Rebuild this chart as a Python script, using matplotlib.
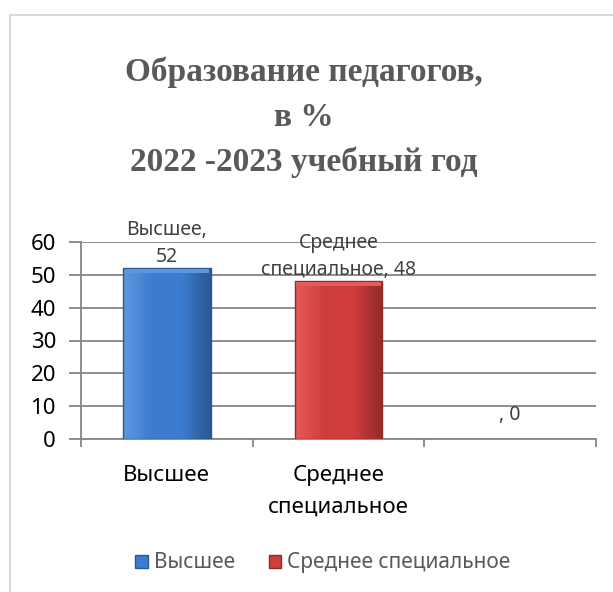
import matplotlib.pyplot as plt
import numpy as np
from matplotlib.patches import Rectangle, Patch
from matplotlib.colors import LinearSegmentedColormap

categories = ['Высшее', 'Среднее\nспециальное', '']
values = [52, 48, 0]
data_labels = ['Высшее,\n52', 'Среднее\nспециальное, 48', ', 0']
legend_names = ['Высшее', 'Среднее специальное']
colors = ['#3c7ccf', '#cf3d3c', '#888888']
dark_colors = ['#2a5893', '#922a2a', '#666666']
light_colors = ['#5d97df', '#e35b5a', '#aaaaaa']

plt.rcParams['font.family'] = ['Noto Sans', 'DejaVu Sans']

fig = plt.figure(figsize=(6.13, 5.92), dpi=100)
fig.patch.set_facecolor('white')

# light gray frame of the chart area
fig.patches.append(Rectangle((10 / 613, -0.1), 1.2, (592 - 15) / 592 + 0.1,
                             transform=fig.transFigure, fill=False,
                             edgecolor='#d9d9d9', linewidth=1.5))

fig.text(0.495, 0.802, 'Образование педагогов,\nв %\n2022 -2023 учебный год',
         ha='center', va='center', fontsize=24, fontweight='bold',
         color='#595959', family='Liberation Serif', linespacing=1.55)

ax = fig.add_axes([81 / 613, (592 - 439) / 592, (596 - 81) / 613, (439 - 242) / 592])
x = np.arange(len(categories))
w = 0.51

ax.set_xlim(-0.5, 2.5)
ax.set_ylim(0, 60)

# bars with a horizontal gradient and a light bevel on top
for i, v in enumerate(values):
    if v <= 0:
        continue
    cmap = LinearSegmentedColormap.from_list('g', [light_colors[i], colors[i], colors[i], dark_colors[i]])
    grad = np.linspace(0, 1, 64).reshape(1, -1)
    ax.imshow(grad, cmap=cmap, aspect='auto', extent=(x[i] - w / 2, x[i] + w / 2, 0, v),
              zorder=3)
    ax.add_patch(Rectangle((x[i] - w / 2, 0), w, v, fill=False,
                           edgecolor=dark_colors[i], linewidth=1, zorder=4))
    ax.add_patch(Rectangle((x[i] - w / 2 + 0.01, v - 1.5), w - 0.02, 1.4, color=light_colors[i],
                           linewidth=0, zorder=4))

# data labels
offsets = [1, 1, 10]
for i, v in enumerate(values):
    ax.annotate(data_labels[i], (x[i], v), xytext=(0, offsets[i]), textcoords='offset points',
                ha='center', va='bottom', fontsize=14, color='#404040', linespacing=1.45,
                zorder=5)

ax.set_yticks(np.arange(0, 61, 10))
ax.grid(axis='y', color='#868686', linewidth=1.3, zorder=0)
ax.set_axisbelow(True)
ax.tick_params(axis='y', length=9, color='#868686', width=1.3, labelsize=16, pad=9)

ax.set_xticks(x)
ax.set_xticklabels(categories, fontsize=16, linespacing=1.65)
ax.set_xticks([-0.5, 0.5, 1.5, 2.5], minor=True)
ax.tick_params(axis='x', which='major', length=0, pad=19)
ax.tick_params(axis='x', which='minor', length=6, color='#868686', width=1.3)

for s in ['top', 'right']:
    ax.spines[s].set_visible(False)
for s in ['left', 'bottom']:
    ax.spines[s].set_color('#868686')
    ax.spines[s].set_linewidth(1.3)

handles = [Patch(facecolor=colors[0], edgecolor=dark_colors[0]),
           Patch(facecolor=colors[1], edgecolor=dark_colors[1])]
fig.legend(handles, legend_names, loc='center', bbox_to_anchor=(0.527, 0.049), ncol=2,
           frameon=False, fontsize=15, handlelength=0.6, handleheight=0.6,
           handletextpad=0.3, columnspacing=1.6, labelcolor='#595959')

fig.savefig('out.png', dpi=100)
